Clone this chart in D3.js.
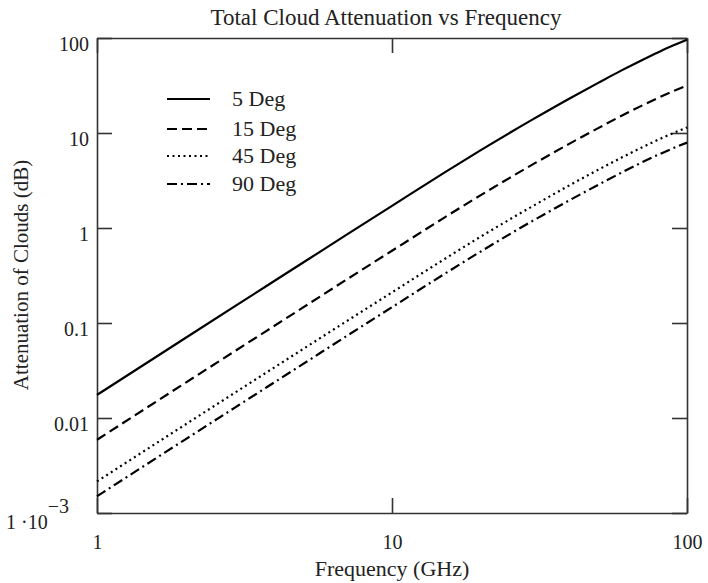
<!DOCTYPE html>
<html>
<head>
<meta charset="utf-8">
<script src="https://cdn.jsdelivr.net/npm/d3@7"></script>
<style>
  body { margin: 0; background: #fff; }
  svg { display: block; font-family: "Liberation Serif", "DejaVu Serif", serif; }
</style>
</head>
<body>
<div id="chart"></div>
<script>
var freqs = [1, 2, 3, 5, 7, 10, 15, 20, 30, 40, 50, 60, 70, 80, 90, 100];

// attenuation (dB) for each elevation angle
var deg5  = [0.0175, 0.070, 0.157, 0.433, 0.847, 1.71, 3.80, 6.60, 13.9, 23.1, 33.7, 45.6, 58.1, 71.0, 83.7, 96.0];
var deg15 = [0.0059, 0.0236, 0.0529, 0.146, 0.2855, 0.576, 1.28, 2.22, 4.67, 7.73, 11.26, 15.17, 19.3, 23.5, 27.6, 31.7];
var deg45 = [0.00215, 0.0086, 0.0193, 0.0533, 0.104, 0.210, 0.467, 0.812, 1.70, 2.82, 4.10, 5.51, 7.0, 8.52, 10.0, 11.42];
var deg90 = [0.0015, 0.0060, 0.01345, 0.0371, 0.0726, 0.1466, 0.326, 0.566, 1.19, 1.96, 2.85, 3.83, 4.87, 5.92, 6.94, 7.92];

var seriesNames = ['5 Deg', '15 Deg', '45 Deg', '90 Deg'];
var seriesValues = [deg5, deg15, deg45, deg90];
var seriesDash = ['none', '10,5', '2,3.5', '10,4,2,4'];

var xTickValues = [1, 10, 100];
var xTickLabels = ['1', '10', '100'];
var yTickValues = [1e-3, 0.01, 0.1, 1, 10, 100];
var yTickLabels = ['1 \u00b710^\u22123', '0.01', '0.1', '1', '10', '100'];

var W = 708, H = 583;
var margin = { top: 38, right: 21, bottom: 70, left: 97 };
var width = W - margin.left - margin.right,
    height = H - margin.top - margin.bottom;

var ink = '#222';
var axisInk = '#333';

var svg = d3.select('#chart').append('svg')
    .attr('width', W)
    .attr('height', H);

var g = svg.append('g')
    .attr('transform', 'translate(' + margin.left + ',' + margin.top + ')');

var x = d3.scaleLog().domain([1, 100]).range([0, width]);
var y = d3.scaleLog().domain([1e-3, 100]).range([height, 0]);

// axes: ticks point inward on all four sides
var tick = 15;
var xAxis = d3.axisBottom(x).tickValues(xTickValues)
    .tickSizeInner(-tick).tickSizeOuter(0).tickPadding(22)
    .tickFormat(function(d, i) { return xTickLabels[i]; });
var yAxis = d3.axisLeft(y).tickValues(yTickValues)
    .tickSizeInner(-tick).tickSizeOuter(0).tickPadding(8)
    .tickFormat(function(d, i) { return yTickLabels[i]; });

var gx = g.append('g').attr('transform', 'translate(0,' + height + ')').call(xAxis);
var gy = g.append('g').call(yAxis);
g.append('g').call(d3.axisTop(x).tickValues(xTickValues).tickSizeInner(-tick).tickSizeOuter(0).tickFormat(''));
g.append('g').attr('transform', 'translate(' + width + ',0)')
    .call(d3.axisRight(y).tickValues(yTickValues).tickSizeInner(-tick).tickSizeOuter(0).tickFormat(''));

g.selectAll('.domain, .tick line').attr('stroke', axisInk).attr('stroke-width', 1.6);
g.selectAll('.tick text')
    .attr('fill', ink)
    .style('font-family', '"Liberation Serif", serif')
    .style('font-size', '20px');

gy.selectAll('.tick text').attr('dy', '0.6em');

// power-of-ten label with superscript
gy.selectAll('.tick text').each(function(d, i) {
    var s = yTickLabels[i];
    if (s.indexOf('^') < 0) return;
    var parts = s.split('^');
    var t = d3.select(this).text('').attr('dy', '0.75em').attr('dx', -20);
    t.append('tspan').text(parts[0]);
    t.append('tspan').attr('dy', '-0.8em').text(parts[1]);
});

// curves
var line = d3.line()
    .x(function(d) { return x(d[0]); })
    .y(function(d) { return y(d[1]); })
    .curve(d3.curveMonotoneX);

seriesValues.forEach(function(vals, i) {
    g.append('path')
        .datum(freqs.map(function(f, j) { return [f, vals[j]]; }))
        .attr('fill', 'none')
        .attr('stroke', '#000')
        .attr('stroke-width', 2.2)
        .attr('stroke-dasharray', seriesDash[i])
        .attr('d', line);
});

// legend
var legendY = [99, 129, 156, 184];
var legend = svg.append('g');
seriesNames.forEach(function(name, i) {
    legend.append('line')
        .attr('x1', 167).attr('x2', 210)
        .attr('y1', legendY[i]).attr('y2', legendY[i])
        .attr('stroke', '#000').attr('stroke-width', 2.2)
        .attr('stroke-dasharray', seriesDash[i]);
    legend.append('text')
        .attr('x', 232).attr('y', legendY[i] + 7)
        .attr('fill', ink)
        .style('font-size', '22px')
        .text(name);
});

// titles
svg.append('text')
    .attr('x', 386).attr('y', 25)
    .attr('text-anchor', 'middle')
    .attr('fill', ink)
    .style('font-size', '23px')
    .text('Total Cloud Attenuation vs Frequency');

svg.append('text')
    .attr('x', 392).attr('y', 576)
    .attr('text-anchor', 'middle')
    .attr('fill', ink)
    .style('font-size', '22px')
    .text('Frequency (GHz)');

svg.append('text')
    .attr('transform', 'translate(28,275) rotate(-90)')
    .attr('text-anchor', 'middle')
    .attr('fill', ink)
    .style('font-size', '21px')
    .text('Attenuation of Clouds (dB)');
</script>
</body>
</html>
